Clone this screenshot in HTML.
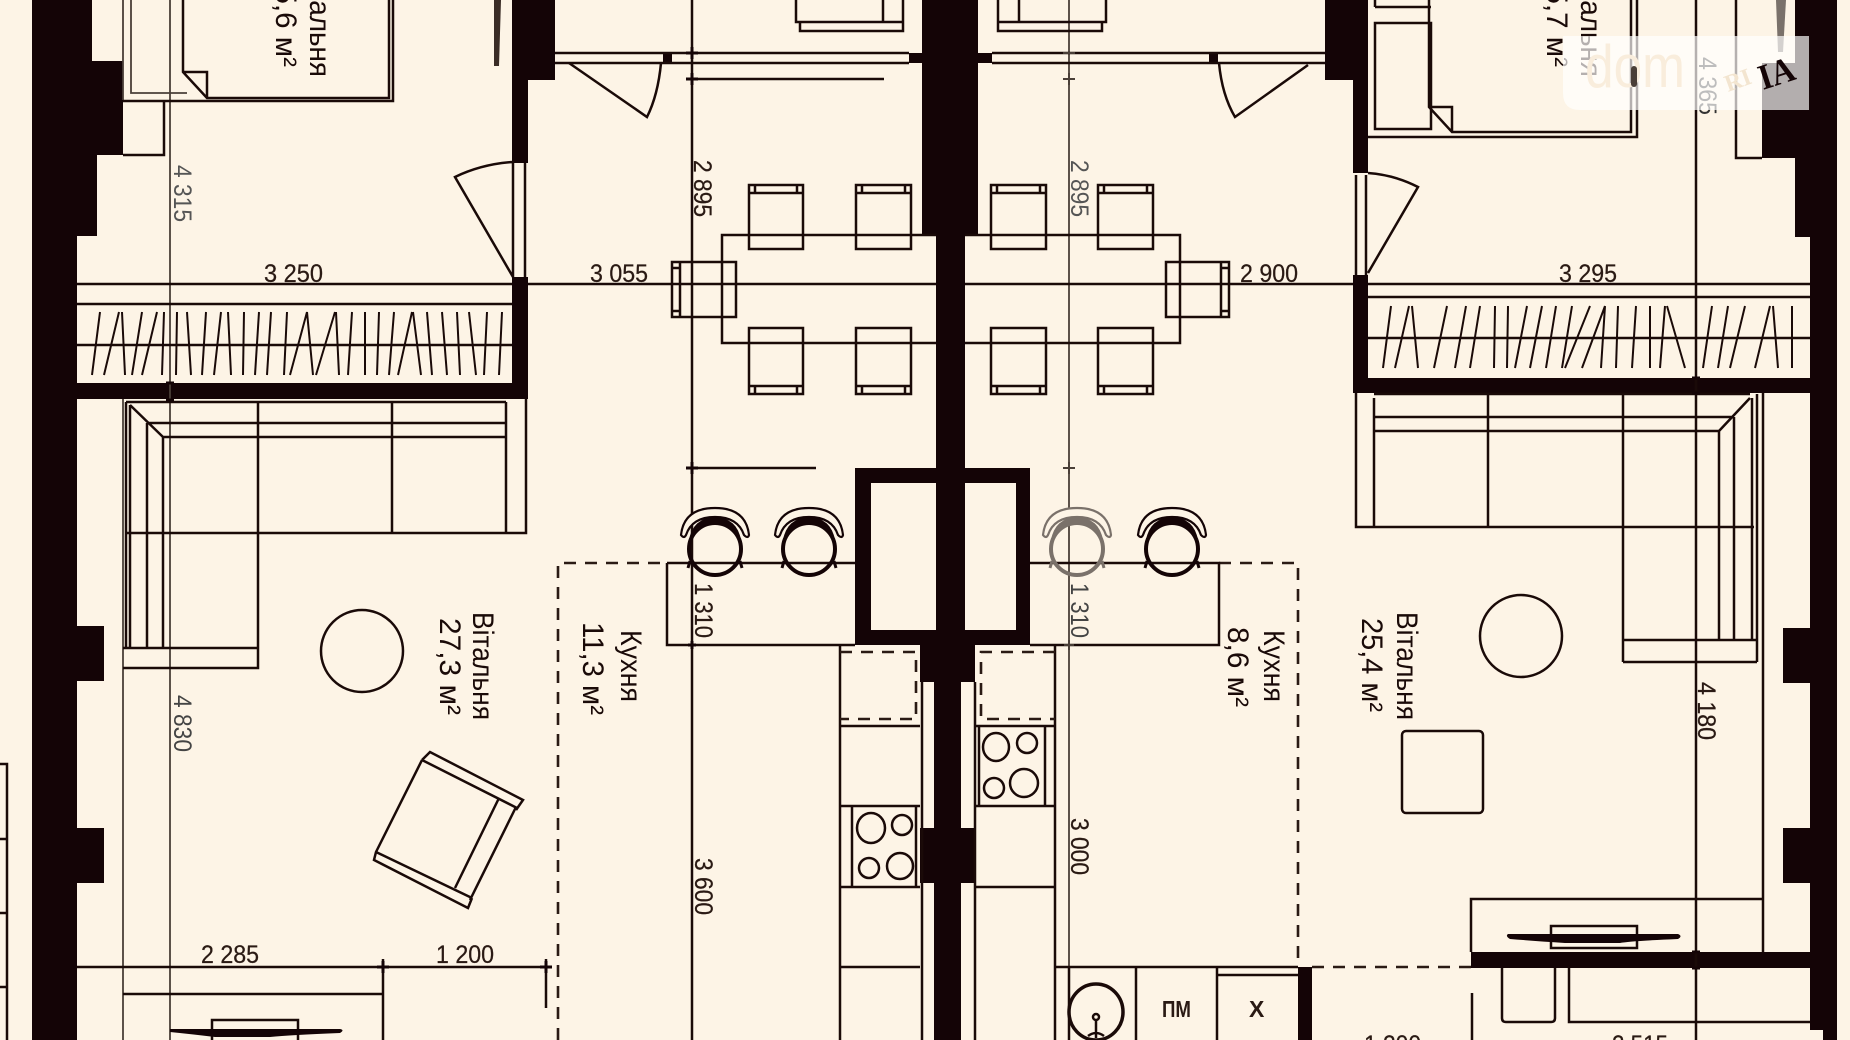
<!DOCTYPE html>
<html lang="uk"><head><meta charset="utf-8"><title>План</title>
<style>
html,body{margin:0;padding:0;background:#fdf4e6;width:1850px;height:1040px;overflow:hidden}
svg{display:block}
text{font-family:"Liberation Sans",sans-serif;fill:#2a1a14}
.d{font-size:25px;stroke:#2a1a14;stroke-width:.25}
.l{font-size:30px;fill:#1a0a08}
.w{fill:#140406;stroke:none}
.g{stroke:#4a3f38;stroke-width:1.8;fill:none}
.s{stroke:#1a0a08;stroke-width:2.5;fill:none}
.da{stroke:#2a1a14;stroke-width:2.6;fill:none;stroke-dasharray:12 9}
.tk{stroke:#140406;stroke-width:3;fill:none}
</style></head><body>
<svg width="1850" height="1040" viewBox="0 0 1850 1040" xmlns="http://www.w3.org/2000/svg">
<defs>
<g id="stool">
<path d="M681 535Q684 508 715 508Q746 508 749 535Q748 539 744 535Q738 517 715 517Q692 517 686 535Q684 539 681 535Z" fill="#fdf4e6" stroke="currentColor" stroke-width="2.2"/>
<path d="M689 540Q693 518 715 517Q737 518 741 540Q733 523 715 522Q697 523 689 540Z" fill="currentColor"/>
<ellipse cx="715" cy="549" rx="26" ry="26" fill="none" stroke="currentColor" stroke-width="4"/>
<path d="M690 561L688 568M740 561L742 568" stroke="currentColor" stroke-width="3" fill="none"/>
</g>
</defs>
<rect width="1850" height="1040" fill="#fdf4e6"/>

<!-- walls -->
<g class="w">
<path d="M32 0H92V61H123V155H97V236H77V626H104V681H77V828H104V883H77V1040H32Z"/>
<path d="M512 0H555V80H528V163H512Z"/>
<rect x="512" y="277" width="16" height="122"/>
<rect x="77" y="383" width="451" height="16"/>
<path d="M922 0H978V235H965V468H1030V645H975V682H961V828H975V883H961V1040H934V883H920V828H934V682H920V645H855V468H936V235H922Z"/>
<rect x="909" y="53" width="14" height="10"/><rect x="978" y="53" width="14" height="10"/>
<rect x="663" y="53" width="9" height="10"/><rect x="1209" y="53" width="9" height="10"/>
<path d="M1325 0H1368V173H1353V80H1325Z"/>
<rect x="1353" y="275" width="15" height="118"/>
<rect x="1353" y="378" width="457" height="15"/>
<path d="M1795 0H1837V1040H1823V1030H1810V883H1783V828H1810V683H1783V628H1810V237H1795V158H1762V63H1795Z"/>
<rect x="1471" y="952" width="339" height="16"/>
<rect x="1298" y="967" width="14" height="73"/>
</g>
<rect x="871" y="483" width="65" height="147" fill="#fdf4e6"/>
<rect x="965" y="483" width="51" height="147" fill="#fdf4e6"/>
<rect x="936" y="483" width="29" height="150" class="w"/>

<!-- dimension lines -->
<g class="g">
<path d="M170 0V1040"/>
<path d="M1069 0V1040"/>
<path d="M123 0V100M131 0V93H187"/>
<path d="M123 399V1040"/>
</g>
<g class="s">
<path d="M692 0V1040"/>
<path d="M77 284H512M528 284H936M965 284H1353M1368 284H1810"/>
<path d="M77 304H512M77 345H512M1368 297H1810M1368 338H1810"/>
<path d="M692 79H884M692 468H816"/>
<path d="M1696 0V1040"/>
<path d="M77 967H546M383 959V1040M546 959V1008M123 994H383"/>

<!-- top-left bed -->
<path d="M183 0V72L207 98H389V0M393 0V101H123M164 101V155H123M183 72H207V98"/>
<path d="M494 0H501L499 66H494Z" fill="#3a2c26" stroke="none"/>
<!-- left door -->
<path d="M513 277L455 177Q482 164 513 162V277M525 163V277"/>
<!-- top window/partition -->
<path d="M555 53H909M555 63H909M992 53H1325M992 63H1325"/>
<path d="M569 63L647 117Q658 95 661 63M1308 65L1235 117Q1222 95 1219 63"/>
<path d="M796 0V22H903V0M800 22V31H903V22M883 0V22M1106 0V22H998V0M1102 22V31H998V22M1019 0V22"/>
<!-- table -->
<path d="M936 235H722V343H936M965 235H1180V343H965"/>
<!-- chairs -->
<path d="M749 185H803V249H749ZM749 193H803M755 185V193M797 185V193"/>
<path d="M856 185H911V249H856ZM856 193H911M862 185V193M905 185V193"/>
<path d="M991 185H1046V249H991ZM991 193H1046M997 185V193M1040 185V193"/>
<path d="M1098 185H1153V249H1098ZM1098 193H1153M1104 185V193M1147 185V193"/>
<path d="M749 328H803V394H749ZM749 386H803M755 386V394M797 386V394"/>
<path d="M856 328H911V394H856ZM856 386H911M862 386V394M905 386V394"/>
<path d="M991 328H1046V394H991ZM991 386H1046M997 386V394M1040 386V394"/>
<path d="M1098 328H1153V394H1098ZM1098 386H1153M1104 386V394M1147 386V394"/>
<path d="M672 262H736V317H672ZM680 262V317M672 268H680M672 311H680"/>
<path d="M1166 262H1229V317H1166ZM1221 262V317M1221 268H1229M1221 311H1229"/>

<!-- left sofa -->
<path d="M126 402H506M126 402V648M130 405L163 437M130 405V648M147 423V648M163 437V648M147 423H506M163 437H506M258 402V648M392 402V533M506 402V533H125M526 399V533H506"/>
<path d="M123 648H258M123 668H258V648"/>
<!-- left circle -->
<ellipse cx="362" cy="651" rx="41" ry="41"/>
<!-- armchair -->
<path d="M422 760L430 752L523 800L516 810M422 760L517 808M422 760L376 852L374 860L468 908L472 898M376 852L472 898M499 798L455 888M516 807L470 900"/>
<!-- bottom left -->
<path d="M0 764H7V1040M0 839H7M0 913H7M0 987H7"/>
<path d="M212 1040V1020H298V1040"/>
<path d="M170 1029H340Q345 1030 340 1033Q290 1035 270 1037H215Q190 1034 170 1032Z" fill="#140406" stroke="none"/>
<!-- kitchen zone -->
<path class="da" d="M558 1040V563H667"/>
<path class="da" d="M1219 563H1298V967M1312 967H1471"/>
<path d="M667 563V645H855M667 563H855M1030 563H1219V645H1030"/>
<!-- kitchen left -->
<path d="M840 645V1040M922 682V1040M840 726H920M840 806H920M840 887H920M840 967H920M852 806V887M916 806V887"/>
<path class="da" d="M840 652H916V719H840"/>
<ellipse cx="871" cy="828" rx="14" ry="15"/><ellipse cx="902" cy="825" rx="10" ry="10"/><ellipse cx="869" cy="868" rx="10" ry="10"/><ellipse cx="900" cy="866" rx="13" ry="13"/>
<!-- kitchen right -->
<path d="M975 682V1040M1055 645V1040M976 726H1055M976 806H1055M976 887H1055M979 726V806M1045 726V806"/>
<path class="da" d="M1055 652H981V719H1055"/>
<ellipse cx="996" cy="747" rx="13" ry="14"/><ellipse cx="1027" cy="743" rx="10" ry="10"/><ellipse cx="994" cy="788" rx="10" ry="10"/><ellipse cx="1024" cy="783" rx="14" ry="14"/>
<!-- bottom service -->
<path d="M1056 967H1298M1217 975H1298M1136 967V1040M1217 967V1040M1069 967V1040"/>
<ellipse cx="1096" cy="1012" rx="27" ry="28" stroke-width="3.5"/><circle cx="1096" cy="1017" r="3"/><path d="M1096 1020V1038M1088 1036Q1096 1030 1104 1036"/>
<!-- top right bed -->
<path d="M1429 0V107L1452 132H1631V0M1637 0V137H1368M1429 107H1452V132"/>
<path d="M1375 23H1431V129H1375ZM1375 7H1431M1375 0V7"/>
<path d="M1736 0V158H1762"/>
<path d="M1776 0H1786L1783 52H1778Z" fill="#7a716a" stroke="none"/>
<!-- right door -->
<path d="M1368 273L1418 187Q1395 175 1368 173M1356 175V275M1366 175V275"/>
<!-- right sofa -->
<path d="M1356 393V527H1374M1374 394H1750M1374 398V527H1754M1374 417H1734M1374 431H1719M1488 394V527M1623 394V662M1750 398L1719 431M1719 431V640M1734 417V640M1752 398V640M1757 394V662M1763 393V952"/>
<path d="M1623 640H1757M1623 662H1757"/>
<ellipse cx="1521" cy="636" rx="41" ry="41"/>
<rect x="1402" y="731" width="81" height="82" rx="4"/>
<!-- TV right -->
<path d="M1471 952V899H1763"/>
<rect x="1551" y="926" width="86" height="22"/>
<path d="M1508 934H1678Q1683 936 1678 939Q1630 941 1620 943H1565Q1535 941 1510 939Q1505 936 1508 934Z" fill="#140406" stroke="none"/>
<!-- bottom right -->
<path d="M1502 968V1018Q1502 1022 1506 1022H1551Q1555 1022 1555 1018V968M1569 968V1022H1810M1472 993V1040"/>
</g>

<!-- dimension ticks -->
<path class="tk" d="M686 53H698M692 47V59M686 79H698M692 73V85M686 468H698M692 462V474M688 645H696M692 641V649M383 961V973M377 967H389M546 961V973M540 967H552"/>
<path class="tk" style="stroke:#4a3f38;stroke-width:2" d="M1063 53H1075M1063 79H1075M1069 73V85M1063 468H1075M1069 462V474M1064 645H1074M1069 640V650"/>
<path class="tk" d="M166 383H174M166 400H174M1692 378H1700M1692 393H1700M1692 952H1700M1692 968H1700"/>

<!-- wardrobe hangers -->
<g class="s" style="stroke-width:2">
<path d="M100 312L92 375M119 312L104 375M122 312L125 375M142 312L132 375M157 312L142 375M164 312L162 375M177 312L176 375M187 312L191 375M206 312L202 375M221 312L214 375M228 312L231 375M244 312L243 375M259 312L255 375M271 312L267 375M287 312L284 375M307 312L290 375M307 312L313 375M335 312L316 375M336 312L339 375M352 312L348 375M365 312L365 375M379 312L377 375M394 312L389 375M412 312L398 375M413 312L421 375M427 312L432 375M442 312L447 375M457 312L460 375M469 312L476 375M487 312L484 375M502 312L499 375"/>
<path d="M1391 306L1383 368M1409 306L1395 368M1412 306L1418 368M1447 306L1434 368M1466 306L1455 368M1480 306L1470 368M1495 306L1494 368M1508 306L1507 368M1527 306L1515 368M1542 306L1530 368M1556 306L1546 368M1572 306L1562 368M1590 306L1565 368M1605 306L1582 368M1605 306L1601 368M1618 306L1616 368M1636 306L1632 368M1650 306L1650 368M1665 306L1660 368M1667 306L1685 368M1712 306L1703 368M1728 306L1718 368M1745 306L1730 368M1770 306L1755 368M1773 306L1778 368M1792 306L1792 368"/>
</g>

<!-- stools -->
<g color="#140406"><use href="#stool"/><use href="#stool" x="94"/><use href="#stool" x="457"/></g>
<g color="#7a716a"><use href="#stool" x="362"/></g>

<!-- horizontal labels -->
<text class="d" x="264" y="282" textLength="59" lengthAdjust="spacingAndGlyphs">3 250</text>
<text class="d" x="590" y="282" textLength="58" lengthAdjust="spacingAndGlyphs">3 055</text>
<text class="d" x="1240" y="282" textLength="58" lengthAdjust="spacingAndGlyphs">2 900</text>
<text class="d" x="1559" y="282" textLength="58" lengthAdjust="spacingAndGlyphs">3 295</text>
<text class="d" x="201" y="963" textLength="58" lengthAdjust="spacingAndGlyphs">2 285</text>
<text class="d" x="436" y="963" textLength="58" lengthAdjust="spacingAndGlyphs">1 200</text>
<text class="d" x="1364" y="1053" textLength="57" lengthAdjust="spacingAndGlyphs">1 200</text>
<text class="d" x="1612" y="1053" textLength="56" lengthAdjust="spacingAndGlyphs">2 515</text>
<text x="1162" y="1017" font-size="23" font-weight="bold" textLength="29" lengthAdjust="spacingAndGlyphs">ПМ</text>
<text x="1249" y="1017" font-size="23" font-weight="bold">Х</text>

<!-- vertical labels -->
<text class="d" style="fill:#555;stroke:none" transform="translate(174,165) rotate(90)" textLength="57" lengthAdjust="spacingAndGlyphs">4 315</text>
<text class="d" style="fill:#444;stroke:none" transform="translate(174,695) rotate(90)" textLength="57" lengthAdjust="spacingAndGlyphs">4 830</text>
<text class="d" transform="translate(694,160) rotate(90)" textLength="57" lengthAdjust="spacingAndGlyphs">2 895</text>
<text class="d" style="fill:#555;stroke:none" transform="translate(1071,160) rotate(90)" textLength="57" lengthAdjust="spacingAndGlyphs">2 895</text>
<text class="d" transform="translate(695,583) rotate(90)" textLength="55" lengthAdjust="spacingAndGlyphs">1 310</text>
<text class="d" style="fill:#444;stroke:none" transform="translate(1071,583) rotate(90)" textLength="55" lengthAdjust="spacingAndGlyphs">1 310</text>
<text class="d" transform="translate(695,858) rotate(90)" textLength="57" lengthAdjust="spacingAndGlyphs">3 600</text>
<text class="d" transform="translate(1071,818) rotate(90)" textLength="57" lengthAdjust="spacingAndGlyphs">3 000</text>
<text class="d" transform="translate(1698,682) rotate(90)" textLength="58" lengthAdjust="spacingAndGlyphs">4 180</text>

<!-- room labels -->
<text class="l" transform="translate(473,612) rotate(90)" textLength="108" lengthAdjust="spacingAndGlyphs">Вітальня</text>
<text class="l" transform="translate(440,618) rotate(90)" textLength="97" lengthAdjust="spacingAndGlyphs">27,3 м²</text>
<text class="l" transform="translate(583,622) rotate(90)" textLength="93" lengthAdjust="spacingAndGlyphs">11,3 м²</text>
<text class="l" transform="translate(621,630) rotate(90)" textLength="72" lengthAdjust="spacingAndGlyphs">Кухня</text>
<text class="l" transform="translate(1264,630) rotate(90)" textLength="72" lengthAdjust="spacingAndGlyphs">Кухня</text>
<text class="l" transform="translate(1228,627) rotate(90)" textLength="80" lengthAdjust="spacingAndGlyphs">8,6 м²</text>
<text class="l" transform="translate(1397,612) rotate(90)" textLength="108" lengthAdjust="spacingAndGlyphs">Вітальня</text>
<text class="l" transform="translate(1362,618) rotate(90)" textLength="94" lengthAdjust="spacingAndGlyphs">25,4 м²</text>
<text class="l" transform="translate(310,-35) rotate(90)" textLength="112" lengthAdjust="spacingAndGlyphs">Спальня</text>
<text class="l" transform="translate(276,-29) rotate(90)" textLength="96" lengthAdjust="spacingAndGlyphs">15,6 м²</text>
<text class="l" transform="translate(1547,-29) rotate(90)" textLength="96" lengthAdjust="spacingAndGlyphs">15,7 м²</text>
<text class="l" transform="translate(1581,-35) rotate(90)" textLength="112" lengthAdjust="spacingAndGlyphs">Спальня</text>
<text class="d" style="fill:#333;stroke:none" transform="translate(1699,57) rotate(90)" textLength="58" lengthAdjust="spacingAndGlyphs">4 365</text>

<!-- watermark -->
<path d="M1563 36H1809V110H1580Q1563 110 1563 93Z" fill="#ffffff" opacity=".68"/>
<text x="1585" y="87" font-size="60" style="fill:#f9eddc" textLength="100" lengthAdjust="spacingAndGlyphs">dom</text>
<rect x="1631" y="66" width="6" height="21" rx="3" fill="#4a3f38"/>
<text x="1728" y="92" font-size="24" font-weight="bold" style="font-family:'Liberation Serif',serif;fill:#f3e5d0" transform="rotate(-20 1728 92)">RI</text>
<text x="1763" y="90" font-size="36" font-weight="bold" style="font-family:'Liberation Serif',serif;fill:#140406" transform="rotate(-18 1763 90)" textLength="36" lengthAdjust="spacingAndGlyphs">IA</text>
</svg>
</body></html>
